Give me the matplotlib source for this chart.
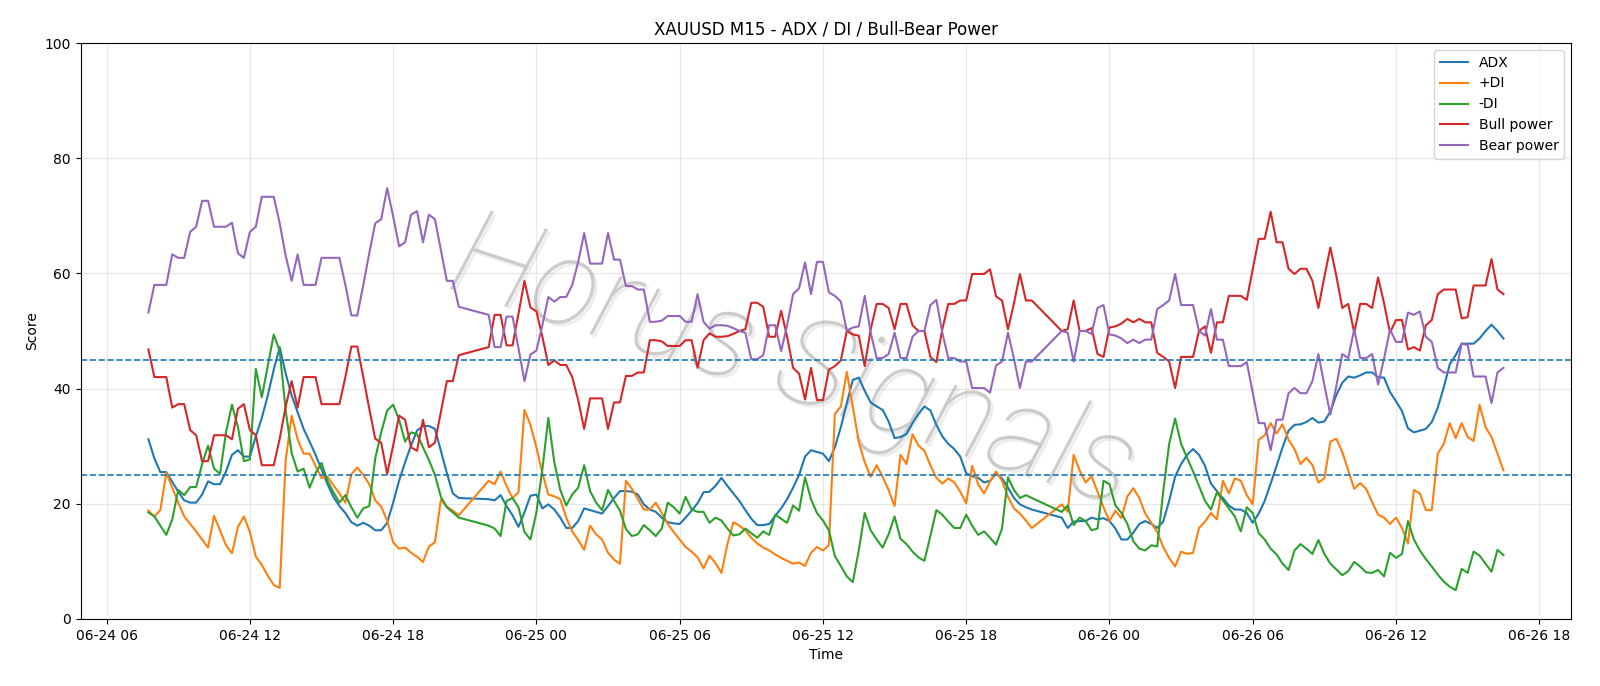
import pandas as pd
import matplotlib.pyplot as plt
import matplotlib.dates as mdates
import matplotlib.patheffects as pe

# 15-minute bars, three sessions (daily break 21:00-22:00)
times = (list(pd.date_range("2025-06-24 07:45", "2025-06-24 20:45", freq="15min"))
         + list(pd.date_range("2025-06-24 22:00", "2025-06-25 20:45", freq="15min"))
         + list(pd.date_range("2025-06-25 22:00", "2025-06-26 16:30", freq="15min")))

adx = [
    31.2,
    27.9, 25.5, 25.5, 23.8, 22.1, 20.6, 20.2, 20.2, 21.6, 23.9, 23.4, 23.4,
    25.6, 28.5, 29.3, 28.2, 28.2, 31.7, 34.9, 38.8, 43.3, 47.2, 42.6, 38.8,
    35.9, 33.0, 30.8, 28.5, 26.0, 23.4, 21.2, 19.6, 18.4, 16.8, 16.2, 16.7,
    16.2, 15.4, 15.4, 16.7, 20.2, 24.0, 27.2, 30.1, 32.7, 33.5, 33.5, 33.0,
    29.2, 25.3, 21.8, 21.0,
    # session 2
    20.8, 20.6, 21.5, 19.6, 18.0, 16.0, 18.5, 21.4, 21.6, 19.2, 19.9, 19.0,
    17.6, 15.8, 15.8, 17.0, 19.2, 18.9, 18.6, 18.3, 19.6, 21.0, 22.2, 22.2,
    22.1, 21.6, 19.9, 19.0, 18.6, 17.6, 16.8, 16.6, 16.5, 17.6, 18.8, 20.1,
    22.0, 22.1, 23.1, 24.5, 23.1, 21.8, 20.5, 18.9, 17.4, 16.3, 16.3, 16.5,
    17.9, 19.2, 20.8, 22.8, 25.0, 28.2, 29.3, 29.0, 28.7, 27.4, 29.8, 33.3,
    37.5, 41.5, 41.9, 39.6, 37.6, 36.9, 36.3, 34.3, 31.4, 31.6, 32.1, 34.0,
    35.6, 36.9, 36.2, 33.7, 31.7, 30.4, 29.5, 28.2, 25.3, 24.8, 24.5, 23.7,
    24.0, 25.2, 24.4, 22.8, 21.0, 19.9, 19.4, 19.0,
    # session 3
    17.6, 15.8, 16.9, 17.0, 17.0, 17.6, 17.3, 17.5, 17.0, 15.7, 13.8, 13.8,
    15.0, 16.5, 17.0, 16.5, 15.8, 16.9, 20.5, 24.7, 26.9, 28.5, 29.5, 28.5,
    26.6, 23.5, 22.2, 21.0, 19.7, 19.0, 19.0, 18.4, 16.7, 18.3, 20.5, 23.5,
    26.6, 29.8, 32.7, 33.7, 33.8, 34.2, 34.9, 34.1, 34.3, 36.0, 38.9, 41.0,
    42.1, 41.9, 42.3, 42.8, 42.8, 42.0, 41.9, 39.4, 37.8, 36.1, 33.1, 32.4,
    32.7, 33.0, 34.2, 36.7, 40.2, 44.2, 45.8, 47.8, 47.8, 47.8, 48.7, 50.0,
    51.1, 50.0, 48.7,
]

plus_di = [
    18.8,
    17.8, 18.9, 25.4, 22.8, 20.2, 17.8, 16.5, 15.2, 13.8, 12.4, 17.9, 15.4,
    12.8, 11.4, 16.0, 17.8, 15.1, 10.8, 9.4, 7.5, 5.9, 5.4, 27.6, 35.3,
    31.2, 28.7, 28.7, 26.6, 24.5, 24.7, 23.2, 21.8, 20.2, 25.1, 26.3, 25.0,
    23.4, 20.6, 19.5, 17.1, 13.3, 12.2, 12.4, 11.5, 10.8, 9.9, 12.6, 13.3,
    20.7, 19.5, 18.8, 18.0,
    # session 2
    24.0, 23.4, 25.6, 23.1, 21.0, 22.0, 36.3, 33.7, 29.8, 25.3, 21.6, 21.3,
    20.8, 17.6, 15.2, 13.7, 12.0, 16.2, 14.7, 13.8, 11.5, 10.3, 9.6, 24.0,
    22.6, 20.8, 19.0, 19.0, 20.2, 18.4, 16.5, 15.1, 13.8, 12.5, 11.7, 10.7,
    8.8, 11.0, 9.7, 8.0, 13.0, 16.8, 16.2, 15.4, 14.1, 13.1, 12.4, 11.9,
    11.2, 10.6, 10.1, 9.6, 9.8, 9.2, 11.5, 12.5, 11.9, 12.8, 35.6, 36.9,
    42.9, 36.9, 30.8, 27.2, 24.7, 26.7, 24.7, 22.4, 19.6, 28.5, 26.9, 32.1,
    30.1, 29.2, 26.7, 24.5, 23.5, 24.4, 23.7, 22.1, 20.1, 26.6, 23.4, 21.8,
    23.9, 25.6, 24.0, 21.2, 19.2, 18.3, 17.1, 15.8,
    # session 3
    19.9, 18.6, 28.5, 25.8, 23.7, 24.8, 22.1, 19.4, 17.0, 18.8, 17.5, 21.3,
    22.7, 21.0, 18.3, 16.7, 15.1, 12.5, 10.6, 9.1, 11.7, 11.3, 11.5, 15.8,
    16.9, 18.4, 17.3, 24.0, 21.8, 24.4, 24.0, 21.5, 19.9, 31.1, 31.9, 34.0,
    32.2, 33.8, 31.1, 29.5, 26.9, 28.0, 26.7, 23.7, 24.4, 30.8, 31.3, 29.0,
    25.8, 22.6, 23.6, 22.6, 20.3, 18.1, 17.6, 16.5, 17.6, 15.8, 13.1, 22.4,
    21.8, 18.9, 18.9, 28.7, 30.4, 34.0, 31.4, 34.0, 31.6, 30.9, 37.2, 33.3,
    31.6, 28.7, 25.8,
]

minus_di = [
    18.5,
    17.8, 16.2, 14.6, 17.3, 22.4, 21.5, 22.9, 22.9, 26.9, 30.1, 26.1, 25.2,
    32.4, 37.2, 33.3, 27.4, 27.7, 43.4, 38.5, 43.9, 49.4, 46.5, 36.2, 28.8,
    25.6, 26.1, 22.8, 25.3, 27.1, 24.0, 22.0, 20.2, 21.5, 19.4, 17.6, 19.2,
    19.6, 27.9, 32.4, 36.2, 37.2, 34.6, 30.8, 32.4, 32.1, 29.8, 27.6, 25.0,
    21.2, 19.4, 18.5, 17.6,
    # session 2
    16.2, 15.7, 14.4, 20.5, 21.0, 19.4, 15.1, 13.8, 18.5, 26.0, 34.9, 27.2,
    22.4, 19.7, 21.6, 22.8, 26.7, 22.2, 20.2, 18.9, 22.4, 20.5, 18.8, 15.6,
    14.4, 14.7, 16.3, 15.4, 14.4, 15.7, 20.2, 19.4, 18.3, 21.2, 19.0, 18.6,
    18.6, 16.7, 17.6, 17.1, 15.7, 14.5, 14.7, 15.7, 14.9, 14.1, 15.2, 14.6,
    18.1, 17.4, 16.7, 19.7, 18.8, 24.6, 20.8, 18.4, 17.1, 15.4, 10.9, 9.2,
    7.4, 6.4, 11.9, 18.4, 15.4, 13.8, 12.4, 14.7, 17.8, 13.9, 13.0, 11.7,
    10.7, 10.1, 14.4, 18.9, 18.1, 16.9, 15.8, 15.8, 18.1, 16.2, 14.6, 15.2,
    14.1, 12.9, 15.7, 24.6, 22.4, 21.0, 21.5, 21.0,
    # session 3
    18.6, 19.7, 16.3, 17.6, 17.0, 15.4, 15.7, 24.0, 23.4, 19.7, 18.4, 16.5,
    13.5, 12.2, 11.9, 12.8, 12.6, 22.1, 30.4, 34.8, 30.4, 28.0, 25.6, 23.1,
    20.5, 19.0, 22.0, 20.6, 19.2, 17.8, 15.2, 19.4, 18.4, 14.9, 13.8, 12.2,
    11.2, 9.6, 8.5, 11.9, 13.0, 12.2, 11.3, 13.7, 11.3, 9.6, 8.6, 7.6,
    8.3, 9.9, 9.1, 8.1, 8.0, 8.5, 7.4, 11.5, 10.6, 11.3, 17.0, 13.8,
    11.9, 10.4, 9.1, 7.7, 6.5, 5.6, 5.0, 8.7, 8.0, 11.7, 11.0, 9.6,
    8.2, 12.0, 11.1,
]

bull_power = [
    46.8,
    42.0, 42.0, 42.0, 36.7, 37.3, 37.3, 32.8, 31.9, 27.4, 27.4, 31.9, 31.9,
    31.9, 31.2, 36.5, 37.3, 32.8, 31.9, 26.7, 26.7, 26.7, 31.3, 36.9, 41.3,
    36.7, 42.0, 42.0, 42.0, 37.3, 37.3, 37.3, 37.3, 42.0, 47.3, 47.3, 42.0,
    36.5, 31.3, 30.6, 25.2, 30.1, 35.3, 34.6, 29.8, 29.2, 34.6, 29.8, 30.6,
    35.9, 41.3, 41.3, 45.8,
    # session 2
    47.2, 52.8, 52.8, 47.5, 47.5, 53.0, 58.7, 54.1, 53.4, 49.0, 44.1, 44.9,
    44.1, 44.1, 42.0, 38.0, 33.0, 38.3, 38.3, 38.3, 33.0, 37.6, 37.6, 42.2,
    42.2, 42.8, 42.8, 48.4, 48.4, 48.2, 47.4, 47.4, 47.4, 48.4, 48.4, 43.6,
    48.4, 49.6, 49.0, 49.0, 49.1, 49.5, 50.0, 50.3, 54.9, 54.9, 54.2, 49.0,
    49.0, 53.5, 49.0, 43.6, 42.6, 38.1, 43.6, 38.0, 38.0, 43.3, 43.9, 44.9,
    50.0, 49.4, 49.2, 43.9, 50.3, 54.7, 54.7, 54.0, 50.3, 54.7, 54.7, 51.0,
    50.0, 50.0, 45.5, 44.6, 50.3, 54.7, 54.7, 55.3, 55.3, 59.9, 59.9, 59.9,
    60.7, 56.0, 55.3, 50.3, 54.8, 59.9, 55.3, 55.3,
    # session 3
    50.0, 50.3, 55.3, 50.0, 50.0, 50.5, 46.0, 45.5, 50.6, 50.8, 51.3, 52.1,
    51.5, 52.1, 51.5, 51.5, 46.2, 45.5, 44.7, 40.1, 45.5, 45.5, 45.5, 50.0,
    50.8, 46.2, 51.5, 51.5, 56.1, 56.1, 56.1, 55.4, 60.7, 66.0, 66.0, 70.7,
    65.4, 65.4, 60.8, 59.9, 60.8, 60.8, 58.7, 54.0, 59.4, 64.5, 59.6, 54.0,
    54.7, 49.7, 54.7, 54.7, 54.0, 59.3, 54.8, 49.7, 51.9, 51.9, 46.8, 47.2,
    46.6, 51.0, 51.9, 56.4, 57.2, 57.2, 57.2, 52.2, 52.4, 57.9, 57.9, 57.9,
    62.5, 57.2, 56.4,
]

bear_power = [
    53.2,
    58.0, 58.0, 58.0, 63.3, 62.7, 62.7, 67.2, 68.1, 72.6, 72.6, 68.1, 68.1,
    68.1, 68.8, 63.5, 62.7, 67.2, 68.1, 73.3, 73.3, 73.3, 68.7, 63.1, 58.7,
    63.3, 58.0, 58.0, 58.0, 62.7, 62.7, 62.7, 62.7, 58.0, 52.7, 52.7, 58.0,
    63.5, 68.7, 69.4, 74.8, 69.9, 64.7, 65.4, 70.2, 70.8, 65.4, 70.2, 69.4,
    64.1, 58.7, 58.7, 54.2,
    # session 2
    52.8, 47.2, 47.2, 52.5, 52.5, 47.0, 41.3, 45.9, 46.6, 51.0, 55.9, 55.1,
    55.9, 55.9, 58.0, 62.0, 67.0, 61.7, 61.7, 61.7, 67.0, 62.4, 62.4, 57.8,
    57.8, 57.2, 57.2, 51.6, 51.6, 51.8, 52.6, 52.6, 52.6, 51.6, 51.6, 56.4,
    51.6, 50.4, 51.0, 51.0, 50.9, 50.5, 50.0, 49.7, 45.1, 45.1, 45.8, 51.0,
    51.0, 46.5, 51.0, 56.4, 57.4, 61.9, 56.4, 62.0, 62.0, 56.7, 56.1, 55.1,
    50.0, 50.6, 50.8, 56.1, 49.7, 45.3, 45.3, 46.0, 49.7, 45.3, 45.3, 49.0,
    50.0, 50.0, 54.5, 55.4, 49.7, 45.3, 45.3, 44.7, 44.7, 40.1, 40.1, 40.1,
    39.3, 44.0, 44.7, 49.7, 45.2, 40.1, 44.7, 44.7,
    # session 3
    50.0, 49.7, 44.7, 50.0, 50.0, 49.5, 54.0, 54.5, 49.4, 49.2, 48.7, 47.9,
    48.5, 47.9, 48.5, 48.5, 53.8, 54.5, 55.3, 59.9, 54.5, 54.5, 54.5, 50.0,
    49.2, 53.8, 48.5, 48.5, 43.9, 43.9, 43.9, 44.6, 39.3, 34.0, 34.0, 29.3,
    34.6, 34.6, 39.2, 40.1, 39.2, 39.2, 41.3, 46.0, 40.6, 35.5, 40.4, 46.0,
    45.3, 50.3, 45.3, 45.3, 46.0, 40.7, 45.2, 50.3, 48.1, 48.1, 53.2, 52.8,
    53.4, 49.0, 48.1, 43.6, 42.8, 42.8, 42.8, 47.8, 47.6, 42.1, 42.1, 42.1,
    37.5, 42.8, 43.6,
]

fig, ax = plt.subplots(figsize=(16, 6.86), dpi=100)
fig.subplots_adjust(left=0.0504, right=0.982, bottom=0.0977, top=0.9373)

ax.plot(times, adx, label="ADX")
ax.plot(times, plus_di, label="+DI")
ax.plot(times, minus_di, label="-DI")
ax.plot(times, bull_power, label="Bull power")
ax.plot(times, bear_power, label="Bear power")
ax.axhline(45, color="C0", linestyle="--", linewidth=1.2)
ax.axhline(25, color="C0", linestyle="--", linewidth=1.2)

# watermark, behind the lines
ax.text(0.478, 0.44, "Horus Signals", transform=ax.transAxes,
        fontsize=88, family="Roboto", fontweight=100, style="italic",
        color="#bcbcbc", alpha=0.75, rotation=-18, ha="center", va="center", zorder=1,
        path_effects=[pe.withSimplePatchShadow(offset=(2, -2), shadow_rgbFace="#dddddd", alpha=0.5)])

ax.set_ylim(0, 100)
ax.xaxis.set_major_locator(mdates.HourLocator(byhour=[0, 6, 12, 18]))
ax.xaxis.set_major_formatter(mdates.DateFormatter("%m-%d %H"))
ax.grid(True, alpha=0.3)
ax.set_title("XAUUSD M15 - ADX / DI / Bull-Bear Power")
ax.set_xlabel("Time")
ax.set_ylabel("Score")
ax.legend(loc="upper right")

plt.savefig("out.png", dpi=100)
